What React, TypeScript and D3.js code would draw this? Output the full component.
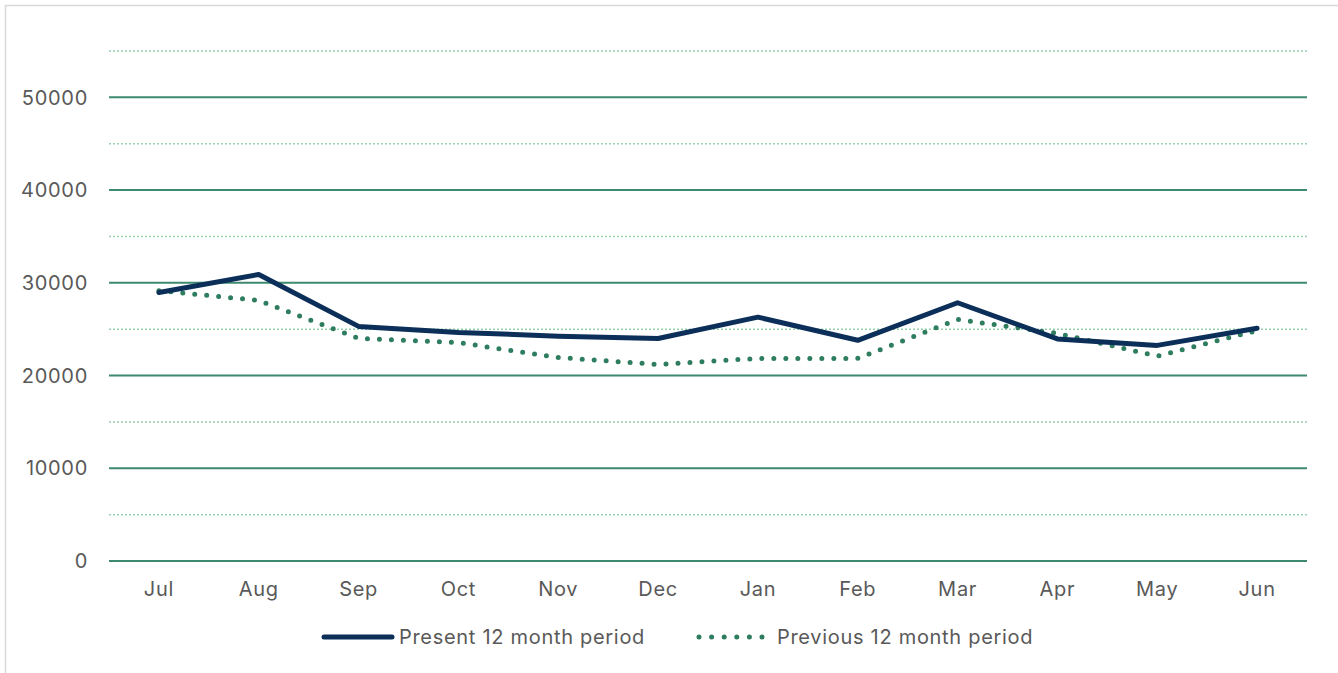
import React from "react";
import * as d3 from "d3";

const months = ["Jul", "Aug", "Sep", "Oct", "Nov", "Dec", "Jan", "Feb", "Mar", "Apr", "May", "Jun"];
const present = [28950, 30900, 25300, 24650, 24250, 24000, 26300, 23800, 27850, 23950, 23250, 25100];
const previous = [29150, 28100, 24000, 23550, 21950, 21200, 21850, 21850, 26050, 24550, 22100, 24850];
const majorTicks = [0, 10000, 20000, 30000, 40000, 50000];
const minorTicks = [5000, 15000, 25000, 35000, 45000, 55000];

const W = 1338;
const H = 673;
const margin = { top: 51, right: 31, bottom: 112, left: 109 };
const font = "Inter, 'Open Sans', sans-serif";

const App = () => {
  const x = d3
    .scalePoint()
    .domain(months)
    .range([margin.left, W - margin.right])
    .padding(0.5);
  const y = d3
    .scaleLinear()
    .domain([0, 55000])
    .range([H - margin.bottom, margin.top]);
  const line = d3
    .line<number>()
    .x((_, i) => x(months[i]) as number)
    .y(d => y(d));

  return (
    <svg
      width={W}
      height={H}
      style={{ position: "absolute", left: 0, top: 0, background: "#fff" }}
    >
      <rect x={5.5} y={5.5} width={W - 4} height={H} fill="none" stroke="#d9d9d9" strokeWidth={1.5} />
      {minorTicks.map(t => (
        <line
          key={"mi" + t}
          x1={margin.left}
          x2={W - margin.right}
          y1={y(t)}
          y2={y(t)}
          stroke="#95d1ad"
          strokeWidth={1.5}
          strokeDasharray="2 2"
        />
      ))}
      {majorTicks.map(t => (
        <g key={"ma" + t}>
          <line
            x1={margin.left}
            x2={W - margin.right}
            y1={y(t)}
            y2={y(t)}
            stroke="#3d8a6e"
            strokeWidth={2}
          />
          <text
            x={88}
            y={y(t)}
            dy="0.36em"
            textAnchor="end"
            fill="#595959"
            fontSize={20}
            letterSpacing={0.7}
            fontFamily={font}
          >
            {t}
          </text>
        </g>
      ))}
      {months.map(m => (
        <text
          key={m}
          x={x(m)}
          y={596}
          textAnchor="middle"
          fill="#595959"
          fontSize={20}
          letterSpacing={0.7}
          fontFamily={font}
        >
          {m}
        </text>
      ))}
      <path
        d={line(previous) || ""}
        fill="none"
        stroke="#2e7d5f"
        strokeWidth={5}
        strokeLinecap="round"
        strokeDasharray="0 12"
      />
      <path
        d={line(present) || ""}
        fill="none"
        stroke="#0b2f58"
        strokeWidth={5}
        strokeLinejoin="round"
        strokeLinecap="round"
      />
      <g fontFamily={font} fontSize={20} letterSpacing={0.7} fill="#595959">
        <line x1={324} x2={392} y1={637} y2={637} stroke="#0b2f58" strokeWidth={5} strokeLinecap="round" />
        <text x={399} y={637} dy="0.36em">Present 12 month period</text>
        <line
          x1={699}
          x2={763}
          y1={637}
          y2={637}
          stroke="#2e7d5f"
          strokeWidth={5}
          strokeLinecap="round"
          strokeDasharray="0 12.6"
        />
        <text x={777} y={637} dy="0.36em">Previous 12 month period</text>
      </g>
    </svg>
  );
};

export default App;
